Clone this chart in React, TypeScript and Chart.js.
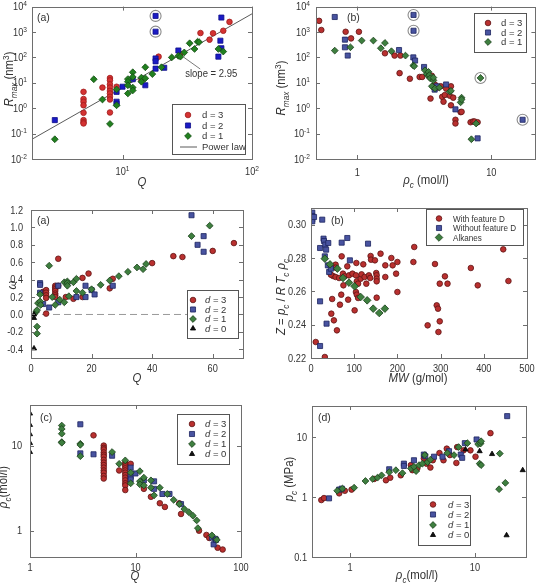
import { useEffect, useRef } from "react";
import { Chart, registerables } from "chart.js";

Chart.register(...registerables);

type Pt = [number, number];

// ---------- (a) R_max versus Q ----------
const rmaxQ_d3: Pt[] = [[5,4.4],[5,2.3],[5,1.8],[5,1.3],[5,0.66],[5,0.34],[5,0.28],[5,0.25],[7,6.5],[8,15.4],[8,12.5],[8,8.7],[8,6.5],[8,4.8],[8,3.8],[8,2.8],[8,2.2],[8,0.68],[9,7],[14,12.5],[19,107],[28,137],[40,910],[47,500],[50,890],[60,1120],[67,2500]];
const rmaxQ_d2: Pt[] = [[3,0.34],[9,4.4],[9,1.8],[9,1.5],[10,7],[12,13.8],[15,8],[18,4300],[18,1030],[18,91],[18,70],[18,36],[21,39],[27,187],[55,107],[57,455],[58,3700],[58,230]];
const rmaxQ_d1: Pt[] = [[3,0.06],[6,13.8],[7,2.2],[8,0.24],[9,5.5],[9,1.3],[11,3.8],[11,14],[11,11],[11,8],[12,26],[12,17],[12,6.5],[12,5],[14,16],[14,11],[15,41],[15,15],[17,22],[20,41],[24,100],[27,115],[28,107],[30,157],[33,360],[36,215],[38,415],[39,400],[55,215],[60,170]];
const rmaxQ_ringed: Pt[] = [[18,4300],[18,1030]];
const powerLaw: Pt[] = [[2,0.06],[100,5200]];
const slopeLeader: Pt[] = [[29.2,108],[39.8,35]];
const slopeLabelAt: Pt = [30.5, 23];

// ---------- (b) R_max versus rho_c ----------
const rmaxRho_d3: Pt[] = [[0.52,2750],[0.54,1200],[0.82,1020],[0.9,560],[1.03,1020],[1.61,145],[1.9,118],[2.1,118],[2.07,24],[2.47,14.5],[2.92,17],[3.05,17],[3.52,2.4],[3.6,19],[3.8,8.5],[4.0,6.5],[4.2,7.3],[4.3,2.8],[4.5,3.3],[4.6,5.9],[4.4,1.8],[4.9,3.1],[5.0,7.3],[5.0,1.3],[5.2,2.6],[5.4,0.35],[5.4,0.25],[5.9,0.7],[6.0,0.72],[7.0,0.28],[7.3,0.3],[7.5,0.3],[7.9,0.28]];
const rmaxRho_d2: Pt[] = [[0.68,3900],[0.81,500],[0.81,250],[0.85,118],[2.63,4700],[2.63,1120],[2.05,195],[2.62,100],[2.7,75],[3.15,42],[3.78,5.4],[3.93,7.3],[4.6,8.6],[5.4,0.9],[7.9,0.065],[17.1,0.35]];
const rmaxRho_d1: Pt[] = [[0.68,185],[0.89,250],[1.08,460],[1.32,460],[1.61,370],[1.5,230],[1.8,175],[2.29,118],[2.62,48],[2.66,45],[3.2,31],[3.3,22],[3.4,27],[3.4,18],[3.45,20],[3.5,15],[3.7,12.5],[3.7,16],[3.6,7.3],[3.8,6],[4.1,6.5],[4.9,4.5],[5.0,4.8],[6.0,2.6],[5.9,1.7],[6.0,2.2],[7.7,0.25],[7.1,0.06],[8.3,15.5]];
const rmaxRho_ringed: Pt[] = [[2.63,4700],[2.63,1120],[8.3,15.5],[17.1,0.35]];

// ---------- (a) acentric factor versus Q ----------
const omegaQ_d3: Pt[] = [[4,0.26],[5,0.01],[5,0.28],[5,0.25],[5,0.22],[5,0.19],[8,0.33],[8,0.31],[8,0.29],[8,0.27],[8,0.24],[8,0.22],[8,0.2],[9,0.64],[9,0.33],[11.5,0.2],[14,0.18],[17,0.42],[17,0.2],[19,0.47],[26,0.3],[27,0.41],[40,0.59],[47,0.67],[50,0.66],[60,0.73],[67,0.82]];
const omegaQ_d2: Pt[] = [[3,0.36],[3,0.34],[3,0.25],[4,0.12],[6,0.08],[9,0.33],[9,0.14],[12,0.36],[15,0.2],[18,0.33],[18,0.2],[20,0.28],[21,0.23],[27,0.33],[53,1.14],[55,0.8],[57,0.9],[57,0.72]];
const omegaQ_d1: Pt[] = [[2,-0.14],[2,-0.22],[1.7,0.03],[2,0.05],[2.3,0.13],[3,0.23],[3,0.15],[3.2,0.11],[6,0.56],[7,0.2],[8,0.11],[9.5,0.17],[11,0.37],[12,0.38],[12,0.36],[12,0.33],[11,0.14],[12.5,0.21],[14,0.37],[15,0.41],[15,0.27],[17,0.25],[20,0.29],[23,0.34],[26,0.39],[29,0.44],[32,0.49],[35,0.54],[37,0.52],[38,0.58],[53,0.9],[59,1.02]];
const omegaQ_d0: Pt[] = [[1,0.0],[1,-0.04],[1,-0.39]];
const omegaZero: Pt[] = [[0,0],[70,0]];

// ---------- (b) compressibility factor versus molecular weight ----------
const zMw_withD: Pt[] = [[11,0.2296],[32,0.2206],[47,0.2466],[49,0.2554],[53,0.2426],[60,0.2366],[57,0.276],[57,0.2742],[51,0.2692],[46,0.27],[57,0.2686],[65,0.268],[67,0.252],[70,0.258],[71,0.281],[74,0.2706],[75,0.2636],[78,0.269],[84,0.275],[86,0.255],[88,0.2696],[96,0.2706],[101,0.2486],[105,0.277],[104,0.2696],[104,0.2596],[106,0.258],[109,0.256],[106,0.266],[109,0.2646],[115,0.2676],[117,0.2702],[121,0.2762],[124,0.2686],[128,0.2646],[134,0.2696],[137,0.268],[138,0.2812],[139,0.279],[148,0.2786],[151,0.271],[152,0.2696],[152,0.2676],[152,0.266],[152,0.2562],[161,0.2826],[172,0.2756],[172,0.2686],[186,0.28],[189,0.2756],[197,0.2706],[200,0.2776],[200,0.2596],[237,0.2776],[239,0.2866],[270,0.2396],[287,0.2764],[291,0.2516],[294,0.2496],[295,0.2356],[298,0.2646],[298,0.242],[310,0.269],[316,0.2646],[370,0.274],[386,0.2636],[445,0.2852],[457,0.2662]];
const zMw_withoutD: Pt[] = [[3,0.3072],[3,0.3052],[3,0.3032],[3,0.302],[7,0.3046],[21,0.286],[21,0.254],[21,0.2272],[26,0.303],[29,0.2916],[30,0.2902],[33,0.288],[32,0.281],[35,0.285],[36,0.2406],[40,0.289],[39,0.2756],[42,0.2716],[46,0.2736],[71,0.2892],[84,0.292],[90,0.2786],[132,0.2886]];
const zMw_alkanes: Pt[] = [[32,0.2796],[44,0.2762],[61,0.2736],[74,0.268],[88,0.2652],[101,0.263],[115,0.2566],[130,0.2546],[144,0.2496],[158,0.247],[171,0.2496]];

// ---------- (c) rho_c versus Q ----------
const rhoQ_d3: Pt[] = [[4,13.2],[5,10],[5,9.4],[5,9],[5,8.3],[5,7.8],[5,7.4],[5,6.8],[5,6.3],[5,5.9],[5,5.5],[5,5.1],[5,4.8],[5,4.4],[5,4.1],[7,5.1],[8,6.3],[8,6.0],[8,5.7],[8,5.4],[8,5.1],[8,4.8],[8,4.5],[8,4.2],[8,3.9],[8,3.6],[8,3.4],[8,3.0],[9,6.1],[12,3.1],[14,2.5],[17,2.1],[19,1.9],[26,2.1],[27,1.57],[40,1.0],[47,0.89],[50,0.82],[60,0.63],[67,0.6]];
const rhoQ_d2: Pt[] = [[3,17.8],[3,8.1],[4,7.9],[6,7.6],[9,5.5],[9,4.3],[9,4.0],[10,4.7],[12,3.9],[15,3.8],[15,3.1],[18,2.7],[21,2.7],[27,2.05],[53,0.83],[55,0.69],[57,0.8],[58,0.78]];
const rhoQ_d1: Pt[] = [[2,17.2],[2,15.7],[2,13.8],[2,11],[2,10.8],[3,10.5],[3,10.2],[3,7.5],[6,8.4],[7,6.1],[8,6.7],[9,4.8],[9,3.6],[11,5.0],[11,3.8],[11,3.5],[12,4.2],[12,3.4],[14,3.9],[14,3.2],[15,2.6],[17,3.2],[20,2.7],[23,2.3],[26,2.05],[29,1.8],[32,1.65],[35,1.5],[38,1.32],[39,1.07],[53,0.88],[59,0.78]];
const rhoQ_d0: Pt[] = [[1,23.8],[1,17.5],[1,13.6],[1,10.7],[1,8.4]];

// ---------- (d) p_c versus rho_c ----------
const pRho_d3: Pt[] = [[0.59,0.89],[0.62,0.96],[0.82,1.15],[0.91,1.27],[1.03,1.33],[1.56,2.0],[1.94,1.9],[2.1,2.1],[2.55,2.3],[3.07,3.4],[3.16,2.8],[3.46,3.0],[3.9,4.4],[4.1,3.6],[4.4,3.1],[4.6,4.1],[5.2,5.4],[5.6,4.1],[5.95,6.4],[6.3,5.0],[7.2,6.8],[7.1,3.7],[8.1,6.0],[9.2,6.0],[10.1,4.7],[13.3,11.6]];
const pRho_d2: Pt[] = [[0.68,0.95],[0.82,1.33],[0.86,1.38],[2.06,2.9],[2.7,3.6],[2.7,3.3],[3.25,4.1],[3.9,5.1],[4.0,4.8],[4.7,4.7],[5.5,4.7],[6.2,5.8],[7.7,5.1],[7.9,4.5],[8.3,7.9],[10.3,9.1],[18.1,22.3]];
const pRho_d1: Pt[] = [[0.79,1.27],[0.87,1.38],[1.08,1.43],[1.33,1.85],[1.52,2.0],[1.66,2.1],[1.79,2.3],[2.06,2.6],[2.33,2.8],[2.63,2.5],[3.07,3.0],[3.25,3.2],[3.38,2.7],[3.57,3.4],[3.8,3.6],[3.97,5.0],[4.17,3.8],[4.4,4.2],[6.0,5.4],[6.8,5.0],[7.4,6.8],[8.7,7.9],[10.6,7.6],[11.1,7.8],[11.2,8.5],[10.9,3.6],[11.2,3.4],[15.8,5.3],[15.6,1.35],[17.5,1.72]];
const pRho_d0: Pt[] = [[8.4,6.2],[10.9,5.8],[13.7,5.2],[17.9,0.23],[24.1,2.8]];

// ---------- tick values ----------
const rmaxExponents = [-2, -1, 0, 1, 2, 3, 4];
const qExponents = [1, 2];
const omegaTicks = [-0.4, -0.2, 0.0, 0.2, 0.4, 0.6, 0.8, 1.0, 1.2];
const qLinearTicks = [0, 20, 40, 60];
const zTicks = [0.22, 0.24, 0.26, 0.28, 0.3];
const mwTicks = [0, 100, 200, 300, 400, 500];
const decadeTicks1 = [1, 10];
const decadeTicks2 = [1, 10, 100];
const decadeTicks3 = [0.1, 1, 10];

// ---------- drawing helpers ----------
type Seg = { t: string; i?: boolean; sub?: boolean; sup?: boolean };
type Marker = "circle" | "rect" | "rectRot" | "triangle";
type Series = { data: Pt[]; marker: Marker; fill: string; stroke: string; r: number };
type LegendRow = { label: Seg[]; marker?: Marker; fill?: string; stroke?: string; r?: number; line?: string };
type Tick = { v: number; label: Seg[] };
type PanelCfg = {
  x0: number; y0: number; w: number; h: number;
  plot: { l: number; t: number; r: number; b: number };
  xType: "linear" | "logarithmic"; xMin: number; xMax: number;
  yType: "linear" | "logarithmic"; yMin: number; yMax: number;
  xTicks: Tick[]; yTicks: Tick[];
  yGap: number; xLabelDy: number;
  xTitle: Seg[]; xTitleAt: Pt;
  yTitle: Seg[]; yTitleAt: Pt;
  tag: string; tagAt: Pt;
  series: Series[];
  rings?: Pt[];
  lines?: { data: Pt[]; color: string; dash?: number[] }[];
  legend: { box: [number, number, number, number]; rows: LegendRow[]; rowY: number[]; markerX: number; textX: number; size: number; sx?: number };
  note?: (ctx: CanvasRenderingContext2D, px: (v: number) => number, py: (v: number) => number) => void;
};

const FAM = '"Liberation Sans", Arial, Helvetica, sans-serif';
const TEXT = "#333333";
const FRAME = "#6e6e6e";

function fontFor(s: Seg, size: number) {
  const z = s.sub || s.sup ? size * 0.72 : size;
  return `${s.i ? "italic " : ""}${z}px ${FAM}`;
}

function drawRich(
  ctx: CanvasRenderingContext2D, segs: Seg[], x: number, y: number, size: number,
  align: "left" | "center" | "right", rot = false, sx = 1,
) {
  ctx.save();
  ctx.translate(x, y);
  if (rot) ctx.rotate(-Math.PI / 2);
  ctx.scale(sx, 1);
  let w = 0;
  for (const s of segs) { ctx.font = fontFor(s, size); w += ctx.measureText(s.t).width; }
  let cx = align === "center" ? -w / 2 : align === "right" ? -w : 0;
  ctx.textAlign = "left";
  ctx.textBaseline = "alphabetic";
  ctx.fillStyle = TEXT;
  const base = size * 0.36;
  for (const s of segs) {
    ctx.font = fontFor(s, size);
    const dy = s.sub ? size * 0.28 : s.sup ? -size * 0.4 : 0;
    ctx.fillText(s.t, cx, base + dy);
    cx += ctx.measureText(s.t).width;
  }
  ctx.restore();
}

function drawMarker(ctx: CanvasRenderingContext2D, m: Marker, x: number, y: number, r: number, fill: string, stroke: string) {
  ctx.beginPath();
  if (m === "circle") ctx.arc(x, y, r, 0, Math.PI * 2);
  else if (m === "rect") { const s = r * Math.SQRT1_2; ctx.rect(x - s, y - s, 2 * s, 2 * s); }
  else if (m === "rectRot") { ctx.moveTo(x, y - r); ctx.lineTo(x + r, y); ctx.lineTo(x, y + r); ctx.lineTo(x - r, y); ctx.closePath(); }
  else { ctx.moveTo(x, y - r); ctx.lineTo(x + r * 0.87, y + r * 0.5); ctx.lineTo(x - r * 0.87, y + r * 0.5); ctx.closePath(); }
  ctx.fillStyle = fill; ctx.fill();
  ctx.strokeStyle = stroke; ctx.lineWidth = 0.8; ctx.stroke();
}

const pow10 = (e: number): Seg[] => [{ t: "10" }, { t: String(e), sup: true }];
const txt = (s: string): Seg[] => [{ t: s }];
const dLabel = (n: number, italic: boolean): Seg[] => [{ t: "d", i: italic }, { t: ` = ${n}` }];

// palettes
const P1 = {
  red: { fill: "#d43232", stroke: "#a01c1c" },
  blue: { fill: "#1a1ac4", stroke: "#10108a" },
  green: { fill: "#21801f", stroke: "#134d12" },
};
const PX = {
  red: { fill: "#b9302f", stroke: "#5e1414" },
  blue: { fill: "#4853a0", stroke: "#1d2560" },
  green: { fill: "#3e7f3f", stroke: "#1b3f1b" },
  black: { fill: "#111111", stroke: "#000000" },
};

const rmaxTitle: Seg[] = [{ t: "R", i: true }, { t: "max", i: true, sub: true }, { t: " (nm" }, { t: "3", sup: true }, { t: ")" }];
const rhoTitle = (gap: string): Seg[] => [{ t: "ρ", i: true }, { t: "c", i: true, sub: true }, { t: `${gap}(mol/l)` }];

const panels: PanelCfg[] = [
  {
    x0: 0, y0: 0, w: 271, h: 195,
    plot: { l: 32, t: 6, r: 252, b: 159 },
    xType: "logarithmic", xMin: 2, xMax: 100, yType: "logarithmic", yMin: 0.01, yMax: 10000,
    xTicks: qExponents.map((e) => ({ v: 10 ** e, label: pow10(e) })),
    yTicks: rmaxExponents.map((e) => ({ v: 10 ** e, label: pow10(e) })),
    yGap: 5, xLabelDy: 12,
    xTitle: [{ t: "Q", i: true }], xTitleAt: [142, 182],
    yTitle: rmaxTitle, yTitleAt: [9, 79],
    tag: "(a)", tagAt: [37, 17],
    series: [
      { data: rmaxQ_d3, marker: "circle", ...P1.red, r: 2.8 },
      { data: rmaxQ_d2, marker: "rect", ...P1.blue, r: 3.6 },
      { data: rmaxQ_d1, marker: "rectRot", ...P1.green, r: 3.4 },
    ],
    rings: rmaxQ_ringed,
    lines: [{ data: powerLaw, color: "#5a5a5a" }],
    legend: {
      box: [172, 104, 73, 50], rowY: [115, 125.5, 136, 146.5], markerX: 188, textX: 202, size: 9.5,
      rows: [
        { label: txt("d = 3"), marker: "circle", ...P1.red, r: 2.8 },
        { label: txt("d = 2"), marker: "rect", ...P1.blue, r: 3.6 },
        { label: txt("d = 1"), marker: "rectRot", ...P1.green, r: 3.4 },
        { label: txt("Power law"), line: "#5a5a5a" },
      ],
    },
    note: (ctx, px, py) => {
      ctx.save();
      ctx.strokeStyle = "#7a7a7a"; ctx.lineWidth = 1;
      ctx.beginPath();
      ctx.moveTo(px(slopeLeader[0][0]), py(slopeLeader[0][1]));
      ctx.lineTo(px(slopeLeader[1][0]), py(slopeLeader[1][1]));
      ctx.stroke();
      ctx.restore();
      drawRich(ctx, txt("slope = 2.95"), px(slopeLabelAt[0]), py(slopeLabelAt[1]), 10, "left", false, 0.95);
    },
  },
  {
    x0: 271, y0: 0, w: 271, h: 195,
    plot: { l: 45, t: 6, r: 269, b: 159 },
    xType: "logarithmic", xMin: 0.493, xMax: 21.3, yType: "logarithmic", yMin: 0.01, yMax: 10000,
    xTicks: decadeTicks1.map((v) => ({ v, label: txt(String(v)) })),
    yTicks: rmaxExponents.map((e) => ({ v: 10 ** e, label: pow10(e) })),
    yGap: 6, xLabelDy: 13,
    xTitle: rhoTitle(" "), xTitleAt: [155, 180],
    yTitle: rmaxTitle, yTitleAt: [10, 88],
    tag: "(b)", tagAt: [76, 17],
    series: [
      { data: rmaxRho_d3, marker: "circle", ...PX.red, r: 2.8 },
      { data: rmaxRho_d2, marker: "rect", ...PX.blue, r: 3.6 },
      { data: rmaxRho_d1, marker: "rectRot", ...PX.green, r: 3.4 },
    ],
    rings: rmaxRho_ringed,
    legend: {
      box: [203, 13, 52, 39], rowY: [23, 32.5, 42], markerX: 217, textX: 230, size: 9.5,
      rows: [
        { label: txt("d = 3"), marker: "circle", ...PX.red, r: 2.8 },
        { label: txt("d = 2"), marker: "rect", ...PX.blue, r: 3.6 },
        { label: txt("d = 1"), marker: "rectRot", ...PX.green, r: 3.4 },
      ],
    },
  },
  {
    x0: 0, y0: 195, w: 271, h: 200,
    plot: { l: 31, t: 15, r: 243, b: 163 },
    xType: "linear", xMin: 0, xMax: 70, yType: "linear", yMin: -0.5, yMax: 1.2,
    xTicks: qLinearTicks.map((v) => ({ v, label: txt(String(v)) })),
    yTicks: omegaTicks.map((v) => ({ v, label: txt(v.toFixed(1)) })),
    yGap: 8, xLabelDy: 10,
    xTitle: [{ t: "Q", i: true }], xTitleAt: [137, 183],
    yTitle: [{ t: "ω", i: true }], yTitleAt: [12, 90],
    tag: "(a)", tagAt: [37, 25],
    series: [
      { data: omegaQ_d3, marker: "circle", ...PX.red, r: 2.8 },
      { data: omegaQ_d2, marker: "rect", ...PX.blue, r: 3.6 },
      { data: omegaQ_d1, marker: "rectRot", ...PX.green, r: 3.4 },
      { data: omegaQ_d0, marker: "triangle", ...PX.black, r: 3 },
    ],
    lines: [{ data: omegaZero, color: "#9a9a9a", dash: [7, 4] }],
    legend: {
      box: [187, 95, 51, 48], rowY: [105, 114.5, 124, 133.5], markerX: 193, textX: 205, size: 9.5,
      rows: [
        { label: dLabel(3, true), marker: "circle", ...PX.red, r: 2.8 },
        { label: dLabel(2, true), marker: "rect", ...PX.blue, r: 3.6 },
        { label: dLabel(1, true), marker: "rectRot", ...PX.green, r: 3.4 },
        { label: dLabel(0, true), marker: "triangle", ...PX.black, r: 3 },
      ],
    },
  },
  {
    x0: 271, y0: 195, w: 271, h: 200,
    plot: { l: 40, t: 13, r: 256, b: 163 },
    xType: "linear", xMin: 0, xMax: 500, yType: "linear", yMin: 0.22, yMax: 0.31,
    xTicks: mwTicks.map((v) => ({ v, label: txt(String(v)) })),
    yTicks: zTicks.map((v) => ({ v, label: txt(v.toFixed(2)) })),
    yGap: 5, xLabelDy: 10,
    xTitle: [{ t: "MW", i: true }, { t: " (g/mol)" }], xTitleAt: [147, 183],
    yTitle: [{ t: "Z", i: true }, { t: " = " }, { t: "p", i: true }, { t: "c", i: true, sub: true }, { t: " / " }, { t: "R T", i: true }, { t: "c", i: true, sub: true }, { t: " ρ", i: true }, { t: "c", i: true, sub: true }],
    yTitleAt: [10, 102],
    tag: "(b)", tagAt: [60, 25],
    series: [
      { data: zMw_withD, marker: "circle", ...PX.red, r: 2.8 },
      { data: zMw_withoutD, marker: "rect", ...PX.blue, r: 3.6 },
      { data: zMw_alkanes, marker: "rectRot", ...PX.green, r: 3.8 },
    ],
    legend: {
      box: [155, 14, 97, 36], rowY: [23.5, 33, 42.5], markerX: 168, textX: 182, size: 9, sx: 0.9,
      rows: [
        { label: txt("With feature D"), marker: "circle", ...PX.red, r: 2.8 },
        { label: txt("Without feature D"), marker: "rect", ...PX.blue, r: 3.6 },
        { label: txt("Alkanes"), marker: "rectRot", ...PX.green, r: 3.8 },
      ],
    },
  },
  {
    x0: 0, y0: 397, w: 271, h: 190,
    plot: { l: 30, t: 8, r: 241, b: 160 },
    xType: "logarithmic", xMin: 1, xMax: 100, yType: "logarithmic", yMin: 0.49, yMax: 30,
    xTicks: decadeTicks2.map((v) => ({ v, label: txt(String(v)) })),
    yTicks: decadeTicks1.map((v) => ({ v, label: txt(String(v)) })),
    yGap: 8, xLabelDy: 10,
    xTitle: [{ t: "Q", i: true }], xTitleAt: [135, 179],
    yTitle: rhoTitle(""), yTitleAt: [3, 90],
    tag: "(c)", tagAt: [40, 20],
    series: [
      { data: rhoQ_d3, marker: "circle", ...PX.red, r: 2.8 },
      { data: rhoQ_d2, marker: "rect", ...PX.blue, r: 3.6 },
      { data: rhoQ_d1, marker: "rectRot", ...PX.green, r: 3.4 },
      { data: rhoQ_d0, marker: "triangle", ...PX.black, r: 3 },
    ],
    legend: {
      box: [177, 17, 52, 50], rowY: [27, 37, 47, 57], markerX: 192, textX: 205, size: 9.5,
      rows: [
        { label: dLabel(3, true), marker: "circle", ...PX.red, r: 2.8 },
        { label: dLabel(2, true), marker: "rect", ...PX.blue, r: 3.6 },
        { label: dLabel(1, true), marker: "rectRot", ...PX.green, r: 3.4 },
        { label: dLabel(0, true), marker: "triangle", ...PX.black, r: 3 },
      ],
    },
  },
  {
    x0: 271, y0: 397, w: 271, h: 190,
    plot: { l: 41, t: 9, r: 255, b: 160 },
    xType: "logarithmic", xMin: 0.497, xMax: 25.6, yType: "logarithmic", yMin: 0.1, yMax: 32.9,
    xTicks: decadeTicks1.map((v) => ({ v, label: txt(String(v)) })),
    yTicks: decadeTicks3.map((v) => ({ v, label: txt(String(v)) })),
    yGap: 5, xLabelDy: 10,
    xTitle: rhoTitle(""), xTitleAt: [146, 178],
    yTitle: [{ t: "p", i: true }, { t: "c", i: true, sub: true }, { t: " (MPa)" }], yTitleAt: [18, 82],
    tag: "(d)", tagAt: [47, 20],
    series: [
      { data: pRho_d3, marker: "circle", ...PX.red, r: 2.8 },
      { data: pRho_d2, marker: "rect", ...PX.blue, r: 3.6 },
      { data: pRho_d1, marker: "rectRot", ...PX.green, r: 3.4 },
      { data: pRho_d0, marker: "triangle", ...PX.black, r: 3 },
    ],
    legend: {
      box: [147, 98, 52, 50], rowY: [107.5, 117.5, 128, 138], markerX: 162, textX: 177, size: 9.5,
      rows: [
        { label: dLabel(3, true), marker: "circle", ...PX.red, r: 2.8 },
        { label: dLabel(2, true), marker: "rect", ...PX.blue, r: 3.6 },
        { label: dLabel(1, true), marker: "rectRot", ...PX.green, r: 3.4 },
        { label: dLabel(0, true), marker: "triangle", ...PX.black, r: 3 },
      ],
    },
  },
];

const toXY = (a: Pt[]) => a.map(([x, y]) => ({ x, y }));

function buildChart(canvas: HTMLCanvasElement, cfg: PanelCfg) {
  const datasets: any[] = [];
  (cfg.lines || []).forEach((l) =>
    datasets.push({
      data: toXY(l.data), showLine: true, borderColor: l.color, borderWidth: 1,
      borderDash: l.dash || [], pointRadius: 0, pointHoverRadius: 0, order: 20,
    }),
  );
  cfg.series.forEach((s, i) =>
    datasets.push({
      data: toXY(s.data), pointStyle: s.marker, pointRadius: s.r, pointHoverRadius: s.r,
      backgroundColor: s.fill, borderColor: s.stroke, borderWidth: 0.8, order: 10 - i,
    }),
  );
  if (cfg.rings) {
    datasets.push({
      data: toXY(cfg.rings), pointStyle: "circle", pointRadius: 5.5, pointHoverRadius: 5.5,
      backgroundColor: "rgba(0,0,0,0)", borderColor: "#8a8a8a", borderWidth: 1.1, order: 0,
    });
  }

  const deco = {
    id: "deco",
    afterDatasetsDraw(chart: any) {
      const ctx: CanvasRenderingContext2D = chart.ctx;
      const a = chart.chartArea;
      const xs = chart.scales.x;
      const ys = chart.scales.y;
      const px = (v: number) => xs.getPixelForValue(v);
      const py = (v: number) => ys.getPixelForValue(v);

      if (cfg.note) cfg.note(ctx, px, py);

      // frame and inward ticks
      ctx.save();
      ctx.strokeStyle = FRAME;
      ctx.lineWidth = 1;
      ctx.strokeRect(Math.round(a.left) + 0.5, Math.round(a.top) + 0.5, Math.round(a.right - a.left), Math.round(a.bottom - a.top));
      ctx.beginPath();
      for (const t of cfg.xTicks) {
        const x = Math.round(px(t.v)) + 0.5;
        ctx.moveTo(x, a.bottom); ctx.lineTo(x, a.bottom - 4);
        ctx.moveTo(x, a.top); ctx.lineTo(x, a.top + 4);
      }
      for (const t of cfg.yTicks) {
        const y = Math.round(py(t.v)) + 0.5;
        ctx.moveTo(a.left, y); ctx.lineTo(a.left + 4, y);
        ctx.moveTo(a.right, y); ctx.lineTo(a.right - 4, y);
      }
      ctx.stroke();
      ctx.restore();

      for (const t of cfg.xTicks) drawRich(ctx, t.label, px(t.v), a.bottom + cfg.xLabelDy, 10, "center", false, 0.92);
      for (const t of cfg.yTicks) drawRich(ctx, t.label, a.left - cfg.yGap, py(t.v), 10, "right", false, 0.92);

      drawRich(ctx, cfg.xTitle, cfg.xTitleAt[0], cfg.xTitleAt[1], 12, "center", false, 0.95);
      drawRich(ctx, cfg.yTitle, cfg.yTitleAt[0], cfg.yTitleAt[1], 12, "center", true, 0.95);
      drawRich(ctx, txt(cfg.tag), cfg.tagAt[0], cfg.tagAt[1], 10.5, "left");

      // legend
      const L = cfg.legend;
      ctx.save();
      ctx.fillStyle = "#ffffff";
      ctx.fillRect(L.box[0], L.box[1], L.box[2], L.box[3]);
      ctx.strokeStyle = "#555555";
      ctx.lineWidth = 1;
      ctx.strokeRect(L.box[0] + 0.5, L.box[1] + 0.5, L.box[2], L.box[3]);
      ctx.restore();
      L.rows.forEach((row, i) => {
        const y = L.rowY[i];
        if (row.line) {
          ctx.save();
          ctx.strokeStyle = row.line; ctx.lineWidth = 1;
          ctx.beginPath(); ctx.moveTo(L.markerX - 8, y + 0.5); ctx.lineTo(L.markerX + 9, y + 0.5); ctx.stroke();
          ctx.restore();
        } else if (row.marker) {
          drawMarker(ctx, row.marker, L.markerX, y, row.r || 3, row.fill || "#000", row.stroke || "#000");
        }
        drawRich(ctx, row.label, L.textX, y, L.size, "left", false, L.sx ?? 1);
      });
    },
  };

  return new Chart(canvas, {
    type: "scatter",
    data: { datasets },
    options: {
      animation: false,
      responsive: false,
      maintainAspectRatio: false,
      events: [],
      layout: { padding: { left: cfg.plot.l, top: cfg.plot.t, right: cfg.w - cfg.plot.r, bottom: cfg.h - cfg.plot.b } },
      plugins: { legend: { display: false }, tooltip: { enabled: false } },
      scales: {
        x: { type: cfg.xType, min: cfg.xMin, max: cfg.xMax, display: false },
        y: { type: cfg.yType, min: cfg.yMin, max: cfg.yMax, display: false },
      },
    } as any,
    plugins: [deco],
  });
}

function Panel({ cfg }: { cfg: PanelCfg }) {
  const ref = useRef<HTMLCanvasElement>(null);
  useEffect(() => {
    if (!ref.current) return;
    const chart = buildChart(ref.current, cfg);
    return () => chart.destroy();
  }, [cfg]);
  return (
    <canvas
      ref={ref}
      width={cfg.w}
      height={cfg.h}
      style={{ position: "absolute", left: cfg.x0, top: cfg.y0, width: cfg.w, height: cfg.h }}
    />
  );
}

export default function App() {
  return (
    <div style={{ position: "fixed", left: 0, top: 0, width: 542, height: 587, background: "#ffffff", overflow: "hidden" }}>
      {panels.map((p, i) => (
        <Panel key={i} cfg={p} />
      ))}
    </div>
  );
}
